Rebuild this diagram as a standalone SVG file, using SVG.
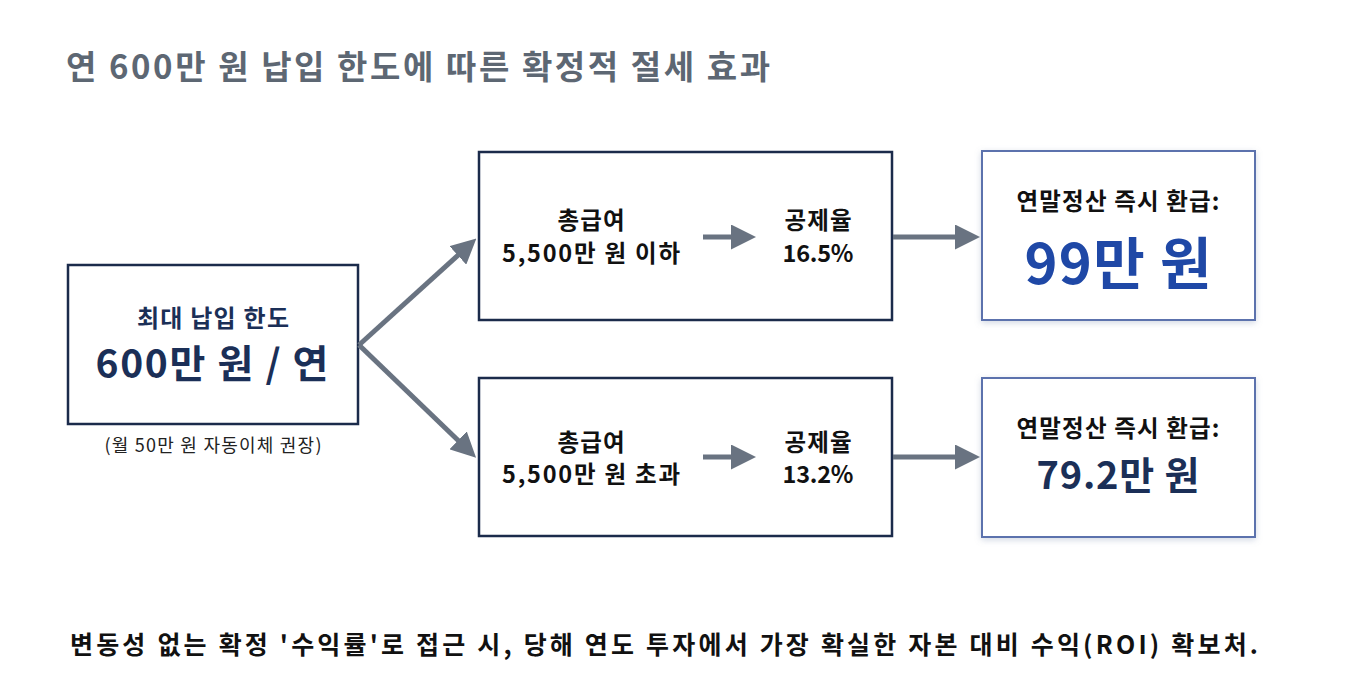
<svg xmlns="http://www.w3.org/2000/svg" width="1356" height="692" viewBox="0 0 1356 692">
<defs>
<style>
text{font-family:"Noto Sans CJK KR","Noto Sans",sans-serif;}
.title{font-size:33px;font-weight:700;fill:#5d6773;}
.boxA{fill:#fff;stroke:#1b2b4b;stroke-width:2.5;}
.boxB{fill:#fff;stroke:#5b72ad;stroke-width:2;}
.lbl{font-size:23.5px;font-weight:600;fill:#111;text-anchor:middle;}
.nav{fill:#1b2f57;}
.conn{stroke:#697381;stroke-width:5;fill:none;}
</style>
<marker id="ah" markerWidth="5" markerHeight="5" refX="2.2" refY="2.5" orient="auto" markerUnits="strokeWidth">
<path d="M0,0 L5,2.5 L0,5 Z" fill="#697381"/>
</marker>
<filter id="sh" x="-10%" y="-10%" width="120%" height="130%">
<feDropShadow dx="0" dy="2" stdDeviation="3" flood-color="#8090b0" flood-opacity="0.35"/>
</filter>
</defs>
<rect width="1356" height="692" fill="#fff"/>
<text class="title" x="66" y="79" textLength="704" lengthAdjust="spacing">연 600만 원 납입 한도에 따른 확정적 절세 효과</text>

<g id="node-limit">
<rect class="boxA" x="68" y="265" width="290" height="159"/>
<text class="lbl nav" x="213" y="327" style="font-size:24px;font-weight:700" textLength="152" lengthAdjust="spacing">최대 납입 한도</text>
<text class="lbl nav" x="212" y="378" style="font-size:39px;font-weight:700" textLength="233" lengthAdjust="spacing">600만 원 / 연</text>
<text class="lbl" x="213" y="452" style="font-size:18px;font-weight:400;fill:#222" textLength="217" lengthAdjust="spacing">(월 50만 원 자동이체 권장)</text>
</g>

<g id="node-under">
<rect class="boxA" x="479" y="152" width="413" height="168"/>
<text class="lbl" x="591" y="229" textLength="67" lengthAdjust="spacing">총급여</text>
<text class="lbl" x="591" y="262" textLength="178" lengthAdjust="spacing">5,500만 원 이하</text>
<text class="lbl" x="818" y="229" textLength="67" lengthAdjust="spacing">공제율</text>
<text class="lbl" x="818" y="262" textLength="71" lengthAdjust="spacing">16.5%</text>
</g>

<g id="node-over">
<rect class="boxA" x="479" y="378" width="413" height="158"/>
<text class="lbl" x="591" y="451" textLength="67" lengthAdjust="spacing">총급여</text>
<text class="lbl" x="591" y="483" textLength="178" lengthAdjust="spacing">5,500만 원 초과</text>
<text class="lbl" x="818" y="451" textLength="67" lengthAdjust="spacing">공제율</text>
<text class="lbl" x="818" y="483" textLength="71" lengthAdjust="spacing">13.2%</text>
</g>

<g id="node-refund-high">
<rect class="boxB" x="982" y="151" width="273" height="169" filter="url(#sh)"/>
<text class="lbl" x="1118" y="210" textLength="203" lengthAdjust="spacing">연말정산 즉시 환급:</text>
<text class="lbl" x="1118" y="284" style="font-size:56px;font-weight:700;fill:#1f48a6" textLength="187" lengthAdjust="spacing">99만 원</text>
</g>

<g id="node-refund-low">
<rect class="boxB" x="982" y="378" width="273" height="159" filter="url(#sh)"/>
<text class="lbl" x="1118" y="437" textLength="203" lengthAdjust="spacing">연말정산 즉시 환급:</text>
<text class="lbl nav" x="1118" y="489" style="font-size:38px;font-weight:700" textLength="163" lengthAdjust="spacing">79.2만 원</text>
</g>

<g id="connectors">
<line class="conn" x1="359" y1="345" x2="466" y2="248" marker-end="url(#ah)"/>
<line class="conn" x1="359" y1="345" x2="466" y2="448" marker-end="url(#ah)"/>
<line class="conn" x1="703" y1="237" x2="742" y2="237" marker-end="url(#ah)"/>
<line class="conn" x1="703" y1="457" x2="742" y2="457" marker-end="url(#ah)"/>
<line class="conn" x1="893" y1="237" x2="966" y2="237" marker-end="url(#ah)"/>
<line class="conn" x1="893" y1="457" x2="966" y2="457" marker-end="url(#ah)"/>
</g>

<text x="664" y="654" text-anchor="middle" style="font-size:25px;font-weight:700;fill:#111" textLength="1188" lengthAdjust="spacing">변동성 없는 확정 '수익률'로 접근 시, 당해 연도 투자에서 가장 확실한 자본 대비 수익(ROI) 확보처.</text>
</svg>
